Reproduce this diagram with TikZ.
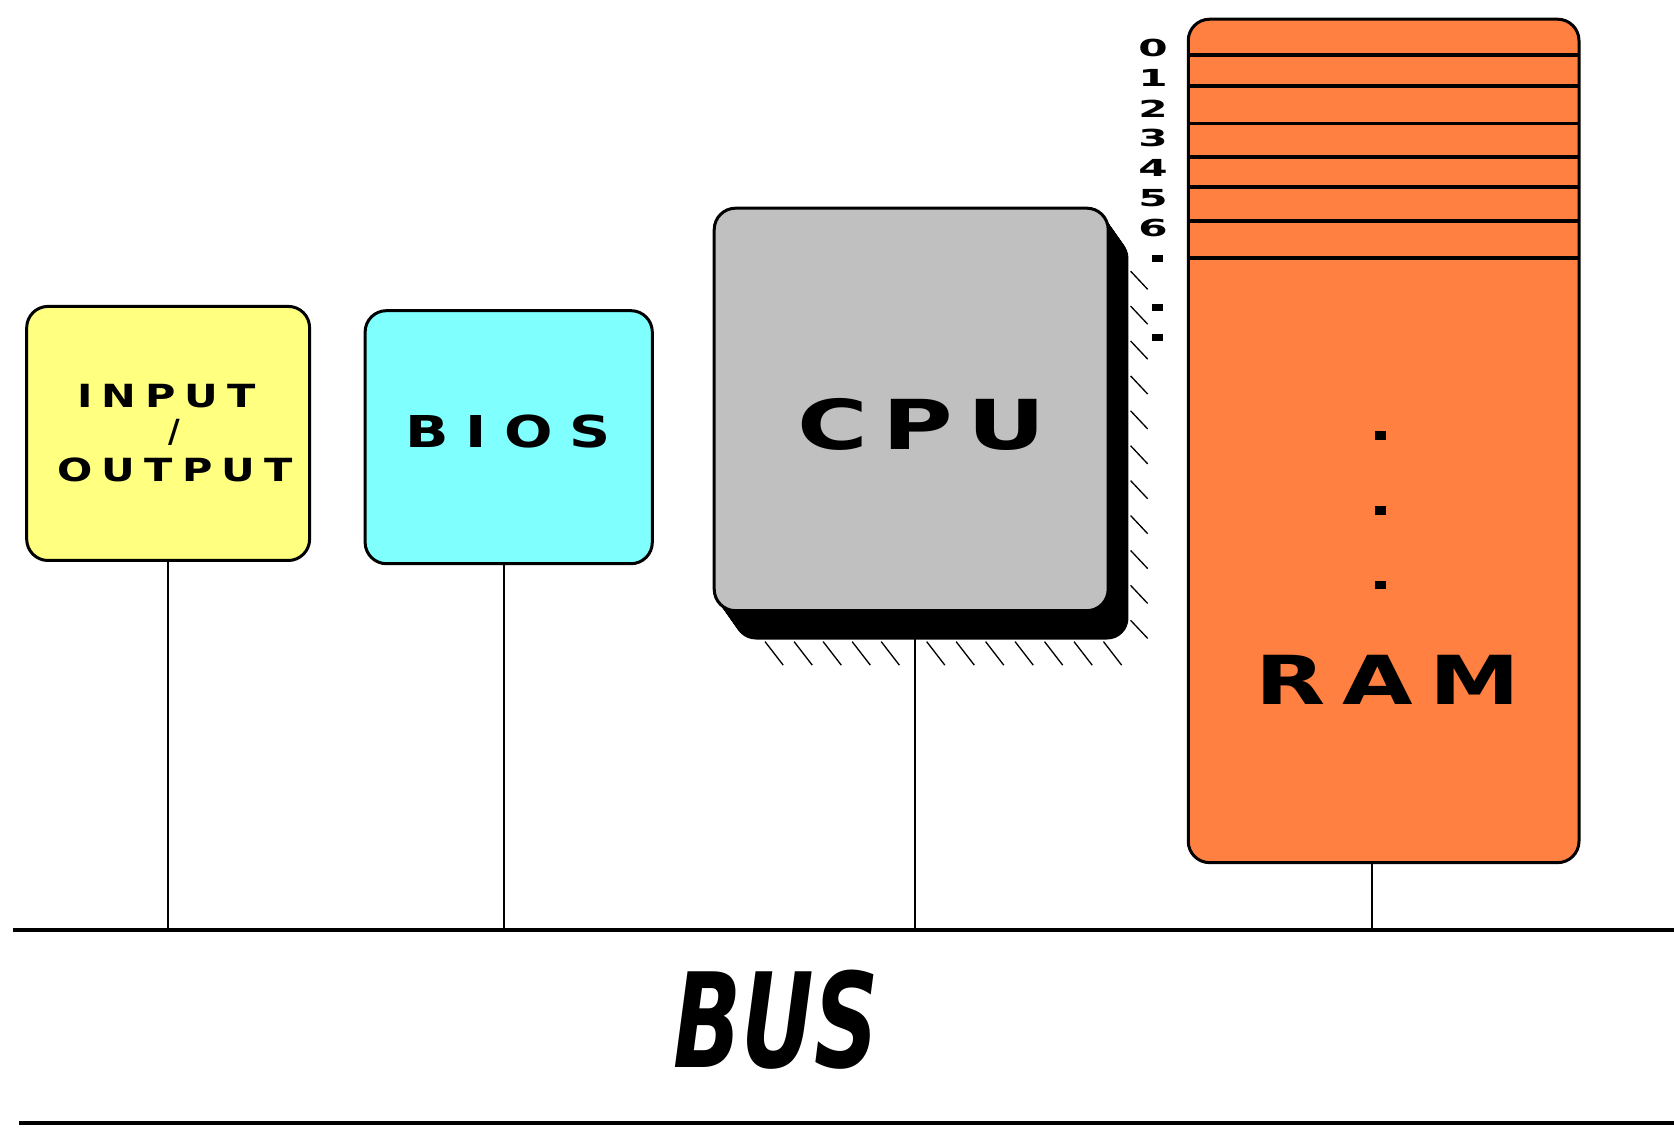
\documentclass[tikz,border=0pt]{standalone}
\usepackage{fontspec}
\usepackage{graphicx}
\newfontfamily\pixfont{DejaVu Sans}
\definecolor{ioyellow}{HTML}{FFFF80}
\definecolor{bioscyan}{HTML}{80FFFF}
\definecolor{cpugray}{HTML}{C0C0C0}
\definecolor{ramorange}{HTML}{FF8040}
\begin{document}
\begin{tikzpicture}[x=0.2mm,y=-0.2mm,
  box/.style={draw=black, line width=1.6pt, rounded corners=4mm, inner sep=0pt},
  wire/.style={line width=1.1pt},
  busline/.style={line width=1.8pt},
  hatchline/.style={line width=0.7pt},
  rowline/.style={line width=1.8pt},
  lbl/.style={inner sep=0pt},
  dotsq/.style={fill=black, inner sep=0pt, minimum width=2mm, minimum height=1.4mm}]
\useasboundingbox[fill=white] (0,0) rectangle (1568,1058);

% bus lines
\coordinate (busL) at (12,871);
\coordinate (busR) at (1568,871);
\coordinate (botL) at (18,1052);
\coordinate (botR) at (1568,1052);
\coordinate (ioc) at (157,871);
\coordinate (biosc) at (472,871);
\coordinate (cpuc) at (857,871);
\coordinate (ramc) at (1285,871);

% boxes (nodes)
\node[box, fill=ioyellow, minimum width=53mm, minimum height=47.6mm] (io) at (157.5,406) {};
\node[box, fill=bioscyan, minimum width=53.8mm, minimum height=47.4mm] (bios) at (476.5,409.5) {};
\node[box, fill=ramorange, minimum width=73.2mm, minimum height=158mm] (ram) at (1296,413) {};

% connectors
\draw[wire] (io.south -| ioc) -- (ioc);
\draw[wire] (bios.south -| biosc) -- (biosc);
\draw[wire] (857,598) -- (cpuc);
\draw[wire] (ram.south -| ramc) -- (ramc);
\draw[busline] (busL) -- (busR);
\draw[busline] (botL) -- (botR);

% CPU extrusion shadow
\foreach \i in {0,...,24}
  \fill[black, rounded corners=4mm, shift={(\i*19/24,\i*27/24)}] (669,195) rectangle (1038,572);
% hatching right
\foreach \k in {0,...,10}
  \draw[hatchline] (1059,254+32.7*\k) -- ++(16,17);
% hatching bottom
\foreach \k in {0,...,4}
  \draw[hatchline] (716.6+27.2*\k,601) -- ++(17,22);
\foreach \k in {0,...,6}
  \draw[hatchline] (868+27.6*\k,601) -- ++(17,22);

\node[box, fill=cpugray, minimum width=73.8mm, minimum height=75.4mm] (cpu) at (853.5,383.5) {};

% RAM rows
\foreach \y in {51.5,80.5,115.5,147,175,207,241.5}
  \draw[rowline] (1113,\y) -- (1479,\y);

% labels
\node[lbl, font=\pixfont\bfseries\fontsize{17}{20}\selectfont] (tin) at (156,371)
  {\scalebox{1.3}[1]{I\kern.22em N\kern.22em P\kern.22em U\kern.22em T}};
\node[lbl, font=\pixfont\bfseries\fontsize{17}{20}\selectfont] (tsl) at (163,405) {/};
\node[lbl, font=\pixfont\bfseries\fontsize{17}{20}\selectfont] (tout) at (164,440)
  {\scalebox{1.3}[1]{O\kern.22em U\kern.22em T\kern.22em P\kern.22em U\kern.22em T}};
\node[lbl, font=\pixfont\bfseries\fontsize{23.4}{26}\selectfont] (tbios) at (476,404)
  {\scalebox{1.3}[1]{B\kern.3em I\kern.3em O\kern.3em S}};
\node[lbl, font=\pixfont\bfseries\fontsize{36.7}{40}\selectfont] (tcpu) at (863,398)
  {\scalebox{1.4}[1]{C\kern.15em P\kern.15em U}};
\node[lbl, font=\pixfont\bfseries\fontsize{36}{40}\selectfont] (tram) at (1300,637)
  {\scalebox{1.35}[1]{R\kern.18em A\kern.18em M}};
\node[lbl, font=\pixfont\bfseries\itshape\fontsize{70}{80}\selectfont] (tbus) at (727,955)
  {\scalebox{0.68}[1]{BUS}};

% address digits
\foreach \d/\y in {0/45,1/73,2/101.5,3/129.6,4/157.7,5/186,6/214}
  \node[lbl, font=\pixfont\bfseries\fontsize{12.5}{14}\selectfont] (dig\d) at (1080,\y) {\scalebox{1.8}[1]{\d}};
\node[dotsq] (ad1) at (1084,242) {};
\node[dotsq] (ad2) at (1084,288) {};
\node[dotsq] (ad3) at (1084,316) {};

% dots in RAM
\node[dotsq, minimum height=1.6mm] (rd1) at (1293,408) {};
\node[dotsq, minimum height=1.6mm] (rd2) at (1293,478) {};
\node[dotsq, minimum height=1.6mm] (rd3) at (1293,548) {};
\end{tikzpicture}
\end{document}
